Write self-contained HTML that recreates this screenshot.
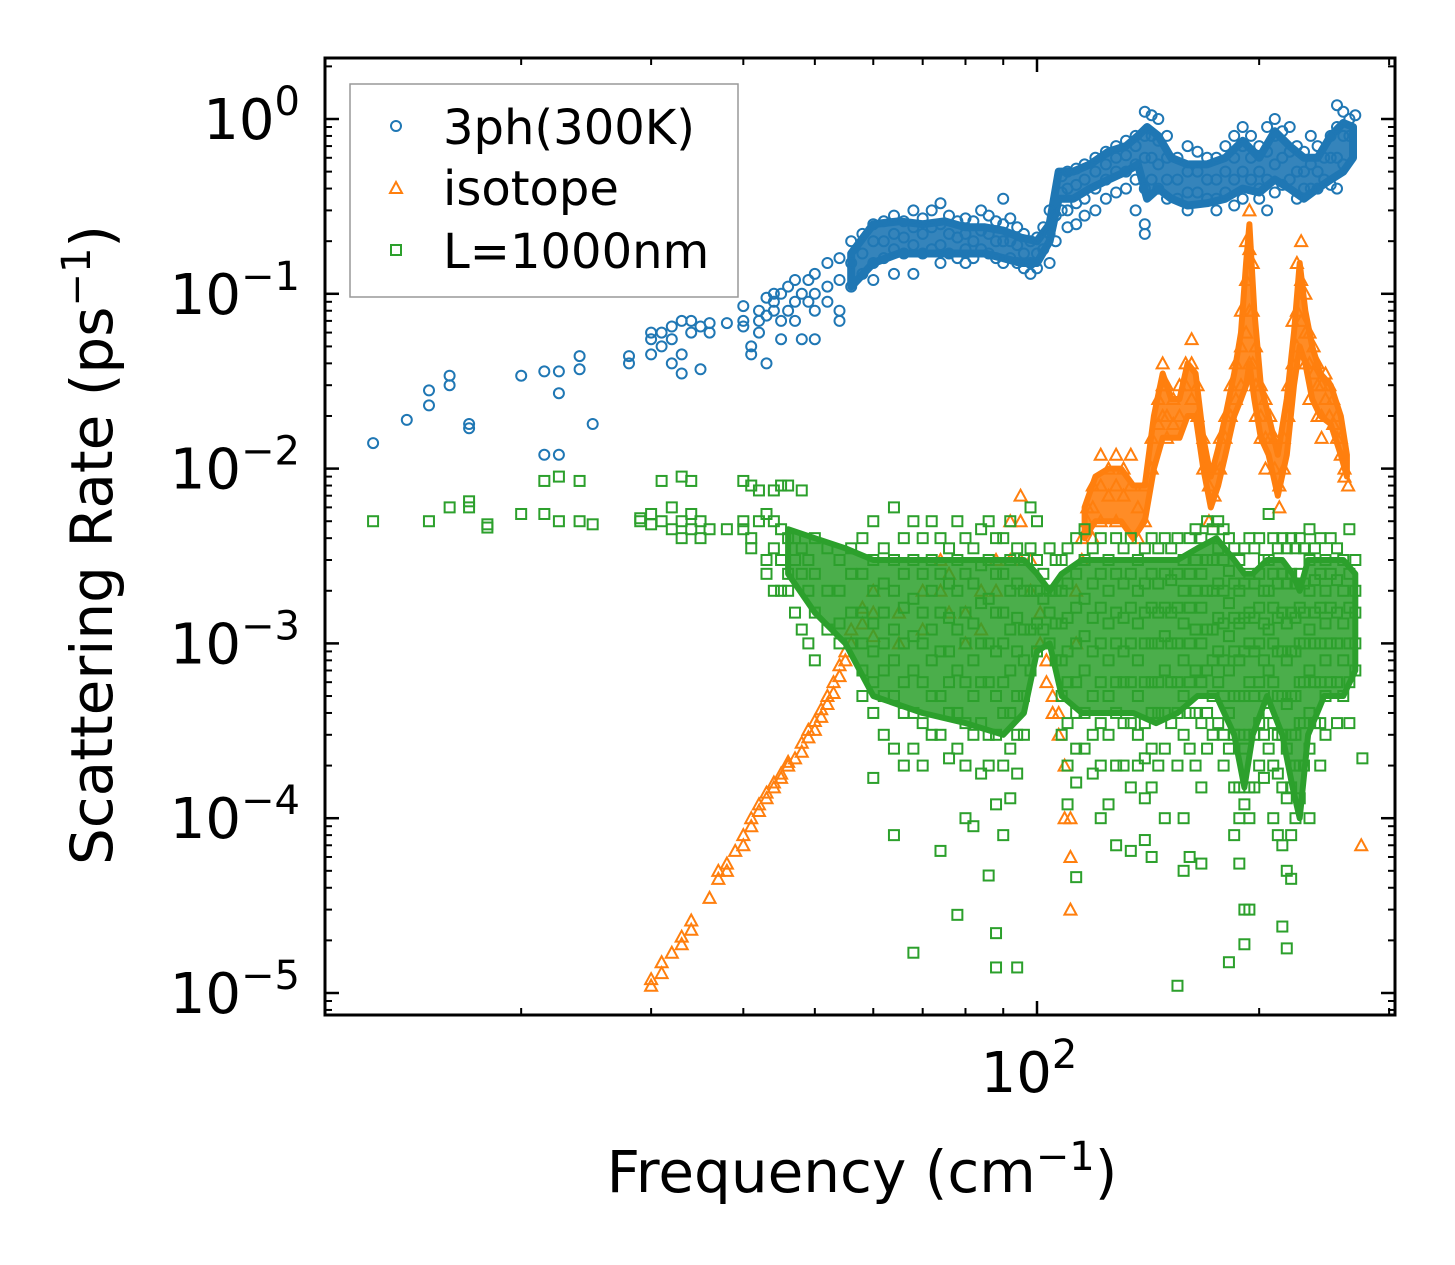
<!DOCTYPE html>
<html><head><meta charset="utf-8"><style>
html,body{margin:0;padding:0;background:#fff}
svg{display:block}
text{font-family:"DejaVu Sans","Liberation Sans",sans-serif;fill:#000}
</style></head><body>
<svg id="chart" width="1455" height="1265" viewBox="0 0 1455 1265" xmlns="http://www.w3.org/2000/svg">
<rect width="1455" height="1265" fill="#fff"/>
<g id="marks"></g>
<g id="axes"></g>
<g id="legend">
<rect x="350" y="84" width="388" height="213" fill="#fff" fill-opacity="0.8" stroke="#999" stroke-width="1.5"/>
<circle cx="396" cy="126" r="5" fill="none" stroke="#1f77b4" stroke-width="2"/>
<text x="443" y="144" font-size="48">3ph(300K)</text>
<path d="M396,182 L402,193 L390,193 Z" fill="none" stroke="#ff7f0e" stroke-width="2"/>
<text x="443" y="205" font-size="48">isotope</text>
<rect x="391" y="245" width="10" height="10" fill="none" stroke="#2ca02c" stroke-width="2"/>
<text x="443" y="268" font-size="48">L=1000nm</text>
</g>
<text x="862" y="1192" font-size="58" text-anchor="middle">Frequency (cm<tspan font-size="40" dy="-22">−1</tspan><tspan dy="22">)</tspan></text>
<text transform="translate(112,545) rotate(-90)" font-size="58" text-anchor="middle">Scattering Rate (ps<tspan font-size="40" dy="-22">−1</tspan><tspan dy="22">)</tspan></text>
</svg>
<script>
// ---- data ----
const threePhFreq = [12.6,14,15,16,17,20,21.5,22.5,24,25,28,30,31,32,33,34,35,36,38,40,41,42,43,44,45,46,47,48,49,50,52,54,56,58,60,62,64,66,68,70,72,74,76,78,80,82,84,86,88,90,92,94,96,98,100,102,104,106,108,110,113,116,120,124,128,132,136,140,143,146,150,155,160,165,170,175,180,185,190,195,200,205,210,215,220,225,230,235,240,245,250,255,260,265,270];
const threePhRate = [[0.014],[0.019],[0.023,0.028],[0.034,0.030],[0.017,0.018],[0.034],[0.012,0.036],[0.027,0.012,0.036],[0.037,0.044],[0.018],[0.044,0.04],[0.055,0.06,0.045],[0.05,0.06],[0.065,0.055,0.04],[0.035,0.07,0.045],[0.07,0.06],[0.065,0.037],[0.068,0.06],[0.068],[0.07,0.085,0.065],[0.05,0.045],[0.08,0.07,0.06],[0.075,0.04,0.095],[0.09,0.1,0.08],[0.1,0.07,0.055],[0.11,0.08],[0.12,0.09,0.07],[0.1,0.055],[0.12,0.09],[0.13,0.1,0.08,0.055],[0.15,0.11,0.09],[0.16,0.12,0.08,0.07],[0.2,0.15,0.11],[0.22,0.17,0.13],[0.25,0.2,0.15,0.12],[0.26,0.2,0.16],[0.28,0.22,0.18,0.13],[0.26,0.21,0.17],[0.3,0.24,0.19,0.13],[0.27,0.22,0.17],[0.3,0.24,0.18],[0.33,0.25,0.19,0.15],[0.28,0.22,0.17],[0.26,0.21,0.16],[0.27,0.22,0.18,0.15],[0.26,0.2,0.16],[0.3,0.23,0.18],[0.28,0.22,0.17],[0.26,0.2,0.16],[0.35,0.25,0.2,0.15],[0.27,0.2,0.16],[0.24,0.19,0.15],[0.22,0.17,0.14],[0.2,0.15,0.13],[0.21,0.17,0.14],[0.24,0.18],[0.3,0.22,0.15],[0.28,0.2],[0.47,0.38,0.3],[0.5,0.4,0.3,0.24],[0.52,0.42,0.33,0.25],[0.55,0.45,0.35,0.28],[0.6,0.5,0.4,0.3],[0.65,0.55,0.45,0.35],[0.7,0.6,0.5,0.38],[0.75,0.62,0.5,0.4],[0.8,0.7,0.55,0.45,0.3],[1.1,0.8,0.6,0.4,0.25,0.22],[1.05,0.8,0.6,0.45],[1.0,0.75,0.55,0.4],[0.8,0.6,0.45,0.35],[0.6,0.45,0.35],[0.7,0.5,0.38,0.3],[0.65,0.5,0.38],[0.6,0.45,0.35],[0.6,0.45,0.35,0.3],[0.7,0.5,0.38],[0.8,0.6,0.45,0.32],[0.9,0.7,0.5,0.35],[0.8,0.6,0.45],[0.7,0.5,0.4,0.35],[0.9,0.65,0.45,0.3],[1.0,0.8,0.55,0.38],[0.85,0.6,0.42],[0.9,0.65,0.45],[0.7,0.5,0.35],[0.65,0.5,0.4],[0.8,0.55,0.4],[0.7,0.5,0.4],[0.6,0.45],[0.8,0.6,0.42],[1.2,0.9,0.6,0.4],[1.1,0.8,0.55],[1.0,0.8],[1.05]];
// dense-core envelope of the 3ph cloud
const threePhBandFreq = [56,60,65,70,75,80,85,90,95,100,104,107,112,118,125,132,137,141,146,152,160,170,180,190,200,210,220,230,240,250,260,268];
const threePhBandLow  = [0.11,0.15,0.17,0.17,0.17,0.17,0.17,0.16,0.15,0.15,0.2,0.35,0.35,0.4,0.45,0.5,0.55,0.35,0.4,0.35,0.32,0.33,0.35,0.4,0.38,0.45,0.4,0.35,0.4,0.45,0.5,0.6];
const threePhBandHigh = [0.17,0.25,0.26,0.25,0.26,0.24,0.24,0.23,0.21,0.2,0.25,0.5,0.5,0.55,0.65,0.7,0.8,0.9,0.8,0.6,0.55,0.55,0.6,0.75,0.6,0.85,0.7,0.6,0.6,0.8,0.95,0.9];

const isoFreq = [30,31,32,33,34,36,37,38,39,40,41,42,43,44,45,46,47,48,49,50,51,52,53,54,55,56,58,60,65,70,74,76,80,84,88,92,95,98,101,103,105,107,109,111,113,115,117,119,122,125,128,131,134,137,140,143,146,148,150,153,156,159,162,165,168,171,174,177,180,183,186,189,192,194,196,198,201,204,207,210,213,216,219,222,225,228,231,234,237,240,243,246,249,252,255,258,261,264,275];
const isoRate = [[1.1e-5,1.2e-5],[1.3e-5,1.5e-5],[1.7e-5],[1.9e-5,2.1e-5],[2.3e-5,2.6e-5],[3.5e-5],[4.5e-5,5e-5],[5e-5,5.5e-5],[6.5e-5],[7e-5,8e-5],[9e-5,1e-4],[1.1e-4,1.2e-4],[1.3e-4,1.4e-4],[1.5e-4,1.6e-4],[1.7e-4,1.8e-4],[2e-4,2.1e-4],[2.2e-4],[2.4e-4,2.7e-4],[2.9e-4,3.2e-4],[3.2e-4,3.6e-4],[3.8e-4,4.2e-4],[4.5e-4,5e-4],[5.2e-4,6e-4],[6.5e-4,7.5e-4],[8e-4,9e-4],[1e-3,1.2e-3],[1.3e-3,1.6e-3],[1.5e-3,2e-3,1.1e-3],[1.5e-3,1e-3],[2e-3,1.2e-3],[3e-3,2e-3],[2.5e-3,1.5e-3],[1.5e-3,1e-3],[2e-3,1.2e-3],[3e-3,2e-3],[5e-3,3e-3],[7e-3,5e-3,3e-3],[3e-3,2e-3],[1.5e-3,1e-3],[8e-4,6e-4],[5e-4,4e-4],[4e-4,3e-4],[2e-4,1e-4],[6e-5,3e-5,1e-4],[1e-3,2e-3],[4e-3,3e-3],[6e-3,5e-3],[8e-3,6e-3,4e-3],[1.2e-2,8e-3,5e-3],[1e-2,7e-3],[1.2e-2,8e-3,5e-3],[1e-2,7e-3],[1.2e-2,8e-3],[6e-3,4e-3],[8e-3,5e-3],[1.5e-2,1e-2],[2.5e-2,1.8e-2],[4e-2,3e-2,2e-2],[3e-2,2e-2,1.5e-2],[2.5e-2,1.8e-2],[3e-2,2e-2],[4e-2,3e-2],[5.5e-2,4e-2,2.5e-2],[3e-2,2e-2],[1.5e-2,1e-2],[8e-3,5e-3],[1e-2,7e-3],[1.5e-2,1e-2],[2e-2,1.5e-2],[3e-2,2e-2],[4e-2,2.5e-2],[8e-2,5e-2,3e-2],[0.2,0.12,0.06],[0.3,0.18,0.08,0.04],[0.15,0.08,0.04],[0.05,0.03,0.02],[0.03,0.02,0.015],[0.025,0.015,0.01],[0.02,0.015],[0.015,0.01],[0.008,0.006],[0.015,0.01],[0.03,0.02],[0.07,0.04],[0.15,0.08,0.05],[0.2,0.12,0.07],[0.1,0.06,0.04],[0.06,0.04,0.025],[0.05,0.035],[0.04,0.03,0.02],[0.03,0.02,0.015],[0.035,0.025],[0.03,0.02],[0.025,0.018],[0.02,0.015],[0.015,0.012],[0.01,0.009],[0.008],[7e-5]];
// dense-core envelope of the isotope cloud
const isoBandFreq = [116,120,125,130,135,140,144,148,152,156,160,164,168,172,176,180,185,189,192,194,197,201,206,212,218,223,227,231,236,242,250,258,263];
const isoBandLow  = [0.004,0.005,0.005,0.005,0.004,0.005,0.01,0.015,0.015,0.015,0.02,0.02,0.01,0.006,0.008,0.012,0.02,0.025,0.03,0.04,0.025,0.015,0.012,0.007,0.012,0.03,0.05,0.04,0.025,0.02,0.018,0.012,0.009];
const isoBandHigh = [0.006,0.009,0.01,0.01,0.008,0.008,0.02,0.035,0.025,0.025,0.04,0.035,0.015,0.009,0.013,0.02,0.035,0.06,0.15,0.25,0.08,0.03,0.02,0.012,0.025,0.06,0.15,0.08,0.05,0.035,0.03,0.02,0.012];

const boundFreq = [12.6,15,16,17,18,20,21.5,22.5,24,25,29,30,31,32,33,34,35,36,38,40,41,42,43,44,45,46,47,48,49,50,52,54,56,58,60,62,64,66,68,70,72,74,76,78,80,82,84,86,88,90,92,94,96,98,100,102,104,106,108,110,113,116,119,122,125,128,131,134,137,140,143,146,149,152,155,158,161,164,167,170,173,176,179,182,185,188,191,194,197,200,203,206,209,212,215,218,221,224,227,230,234,238,242,246,250,255,260,265,270,276];
// rates in units of 1e-3 ps^-1
const boundRateMilli = [[5],[5],[6],[6.5,6],[4.8,4.6],[5.5],[5.5,8.5],[5,9],[5,8.5],[4.8],[5,5.2],[5.5,4.8],[5,8.5],[6,4.5],[9,5,4],[5.5,8.5,4.5],[5,4],[4.5],[4.5],[5,8.5,4.5],[4,8,3.5],[5,7.5],[5.5,3,2.5],[5,7.5,3.5,2],[4.5,3,2,8],[4,2.5,8,2],[4,3,1.5],[3.5,2.5,1.2,7.5],[3,2,1],[4,2.5,1.5,0.8],[3.5,2,1.2],[3,2,1.3,1],[3.5,2.5,1.5,1],[4,2.5,1.5,1,.7,.5],[5,3,2,1.3,.9,.6,.4,.17],[3.5,2.2,1.5,1,.7,.5,.3],[6,3,2,1.2,.8,.5,.25,.08],[4,2.5,1.6,1,.6,.4,.2],[5,3,1.8,1.1,.7,.4,.25,.017],[4,2.5,1.5,1,.6,.35,.2],[5,3,2,1.2,.8,.5,.3],[4,2.5,1.5,.9,.5,.3,.065],[3.5,2.2,1.4,.9,.6,.4,.22],[5,3,2,1.2,.7,.4,.25,.028],[4,2.5,1.5,1,.6,.35,.2,.1],[3.5,2.2,1.3,.8,.5,.3,.09],[4.5,2.8,1.7,1,.6,.35,.18],[5,3,1.8,1,.6,.3,.2,.047],[4,2.5,1.5,.9,.5,.3,.12,.014,.022],[4,2.5,1.5,1,.6,.4,.2,.08],[5,3,2,1.2,.7,.4,.25,.13],[3.5,2.2,1.4,.9,.5,.3,.18,.014],[3,2,1.2,.8,.5,.3],[6,3.5,2,1.2,.7],[5,3,2,1.3,.9],[2.5,1.8,1.2],[3.5,2,1.5,1],[3,2,1.3,.8],[3,2,1.3,.8,.5,.3],[3.5,2.2,1.4,.9,.6,.35,.2,.12],[4,2.5,1.6,1,.6,.4,.25,.16,.046],[4.5,3,1.8,1.1,.7,.4,.25],[3.5,2.2,1.4,.9,.5,.3,.18],[4,2.5,1.6,1,.6,.35,.2,.1],[3,2,1.3,.8,.5,.3,.12],[4,2.5,1.5,1,.6,.4,.2,.07],[3.5,2.2,1.4,.9,.6,.35,.2],[4,2.5,1.6,1,.6,.35,.15,.065],[3,2,1.3,.8,.5,.3,.2],[3.5,2.2,1.5,1,.6,.35,.22,.13,.075],[4,2.5,1.6,1,.6,.4,.25,.15,.06],[3.5,2.2,1.5,1,.6,.4,.2],[4,2.5,1.6,1.1,.7,.4,.25,.1],[3.5,2.3,1.5,1,.6,.35],[4,2.5,1.6,1,.6,.4,.2,.011],[3,2,1.3,.8,.5,.3,.1,.05],[4,2.5,1.6,1,.6,.4,.25,.06],[4.5,3,2,1.2,.7,.4,.2],[4,2.5,1.6,1,.6,.35,.15,.055],[5,3,2,1.2,.7,.4,.25],[4.5,3,2,1.2,.8,.5,.3],[5,3.5,2.2,1.4,.9,.6,.35],[4.5,3,2,1.3,.8,.5,.3,.2],[4,2.6,1.7,1.1,.7,.4,.25,.015],[3.5,2.2,1.4,.9,.5,.3,.15,.08],[3,2,1.3,.8,.5,.3,.15,.1,.055],[3.5,2.2,1.4,.9,.5,.25,.12,.03,.019],[4,2.5,1.5,1,.6,.3,.15,.1,.03],[3.5,2.2,1.4,.9,.5,.3,.15],[4,2.5,1.6,1,.6,.35,.2],[3,2,1.3,.8,.5,.3,.17],[5.5,3,2,1.2,.7,.4,.25],[4,2.5,1.6,1,.6,.35,.2,.1],[3.5,2.2,1.4,.9,.5,.3,.18,.08],[4,2.5,1.5,.9,.5,.3,.15,.07,.024],[3.5,2.2,1.3,.8,.45,.25,.13,.05,.018],[4,2.5,1.5,.9,.5,.3,.15,.08,.045],[3.5,2.2,1.4,.9,.5,.3,.2,.1],[4,2.5,1.6,1,.6,.35,.2,.13],[3.5,2.2,1.5,1,.6,.35,.2],[4.5,3,2,1.2,.7,.4,.25,.1],[3.5,2.3,1.5,1,.6,.35],[4,2.5,1.6,1,.6,.35,.2],[3,2,1.3,.8,.5,.3],[4,2.5,1.6,1,.6],[3.5,2.3,1.5,1,.6,.35],[3,2,1.3,.8,.5],[4.5,2.5,1.6,1,.6,.35],[3,2,1.5,1,.7],[.22]];
// dense-core envelope of the boundary cloud (units 1e-3)
const boundBandFreq = [46,50,55,60,70,80,90,96,100,104,108,115,125,135,145,155,165,175,185,191,196,205,215,222,227,233,245,260,270];
const boundBandLowMilli  = [2.5,1.5,1,0.5,0.4,0.35,0.3,0.4,0.9,1,0.5,0.4,0.4,0.4,0.35,0.4,0.5,0.5,0.3,0.15,0.3,0.5,0.3,0.15,0.1,0.3,0.5,0.5,0.7];
const boundBandHighMilli = [4.5,4,3.5,3,3,3,3,3,2.5,2,2.5,3,3,3,3,3,3.5,4,3,2.5,2.5,3,3,2.5,2,3,3,3,2.5];

const yTickExps = [0,-1,-2,-3,-4,-5];
const yTickLabels = ["0","−1","−2","−3","−4","−5"];
const xMinorTicks = [20,30,40,50,60,70,80,90,200,300];
const xMajorTicks = [100];
const xMajorLabels = ["2"];

// ---- axes geometry ----
const L=325, R=1395, T=58, B=1015;
function xs(f){ return 1037 + 738*Math.log10(f/100); }
function ys(r){ return 119 - 174.8*Math.log10(r); }
const NS="http://www.w3.org/2000/svg";
function mk(tag, attrs, parent){ const e=document.createElementNS(NS,tag); for(const k in attrs) e.setAttribute(k,attrs[k]); parent.appendChild(e); return e; }
function bandPath(fr, lo, hi, scale){
  let d='';
  fr.forEach((f,i)=>{ d += (i?'L':'M') + xs(f).toFixed(1) + ',' + ys(hi[i]*scale).toFixed(1); });
  for(let i=fr.length-1;i>=0;i--){ d += 'L' + xs(fr[i]).toFixed(1) + ',' + ys(lo[i]*scale).toFixed(1); }
  return d+'Z';
}

const marks=document.getElementById('marks');
const gB=mk('g',{},marks);


const gI=mk('g',{},marks);


const gG=mk('g',{},marks);



const bB=mk('path',{d:bandPath(threePhBandFreq,threePhBandLow,threePhBandHigh,1),fill:'#1f77b4','fill-opacity':0.9,stroke:'#1f77b4','stroke-width':8,'stroke-linejoin':'round'},gB);


threePhFreq.forEach((f,i)=>{ threePhRate[i].forEach(r=>{
  const c=mk('circle',{cx:xs(f).toFixed(1),cy:ys(r).toFixed(1),r:5,fill:'none',stroke:'#1f77b4','stroke-width':2},gB);
  
  
});});
const bI=mk('path',{d:bandPath(isoBandFreq,isoBandLow,isoBandHigh,1),fill:'#ff7f0e','fill-opacity':0.9,stroke:'#ff7f0e','stroke-width':6,'stroke-linejoin':'round'},gI);


isoFreq.forEach((f,i)=>{ isoRate[i].forEach(r=>{
  const x=xs(f), y=ys(r);
  const p=mk('path',{d:`M${x},${y-6} L${x+6},${y+5} L${x-6},${y+5} Z`,fill:'none',stroke:'#ff7f0e','stroke-width':2},gI);
  
  
});});
const bG=mk('path',{d:bandPath(boundBandFreq,boundBandLowMilli,boundBandHighMilli,1e-3),fill:'#2ca02c','fill-opacity':0.85,stroke:'#2ca02c','stroke-width':6,'stroke-linejoin':'round'},gG);


boundFreq.forEach((f,i)=>{ boundRateMilli[i].forEach(m=>{
  const x=xs(f), y=ys(m*1e-3);
  const s=mk('rect',{x:x-5,y:y-5,width:10,height:10,fill:'none',stroke:'#2ca02c','stroke-width':2},gG);
  
  
});});

// ---- axes ----
const ax=document.getElementById('axes');
const spine=mk('rect',{x:L,y:T,width:R-L,height:B-T,fill:'none',stroke:'#000','stroke-width':3},ax);


function tick(x1,y1,x2,y2,w){ const t=mk('line',{x1,y1,x2,y2,stroke:'#000','stroke-width':w},ax);   }
for(let e=1;e>=-6;e--){
  for(let m=1;m<10;m++){
    const y=ys(m*Math.pow(10,e));
    if(y<T+1||y>B-1) continue;
    const len = m===1?14:7, w = m===1?2.5:2;
    tick(L,y,L+len,y,w); tick(R,y,R-len,y,w);
  }
}
yTickExps.forEach((e,i)=>{
  const y=ys(Math.pow(10,e));
  const t=mk('text',{x:300,y:y+20,'font-size':56,'text-anchor':'end'},ax);
  t.innerHTML='10<tspan font-size="40" dy="-24">'+yTickLabels[i]+'</tspan>';
  
  
});
xMinorTicks.forEach(f=>{ const x=xs(f); if(x>L+1&&x<R-1){ tick(x,B,x,B-7,2); tick(x,T,x,T+7,2);} });
xMajorTicks.forEach((f,i)=>{
  const x=xs(f); tick(x,B,x,B-14,2.5); tick(x,T,x,T+14,2.5);
  const t=mk('text',{x:x-8,y:1092,'font-size':56,'text-anchor':'middle'},ax);
  t.innerHTML='10<tspan font-size="40" dy="-24">'+xMajorLabels[i]+'</tspan>';
  
  
});
</script>
</body></html>
